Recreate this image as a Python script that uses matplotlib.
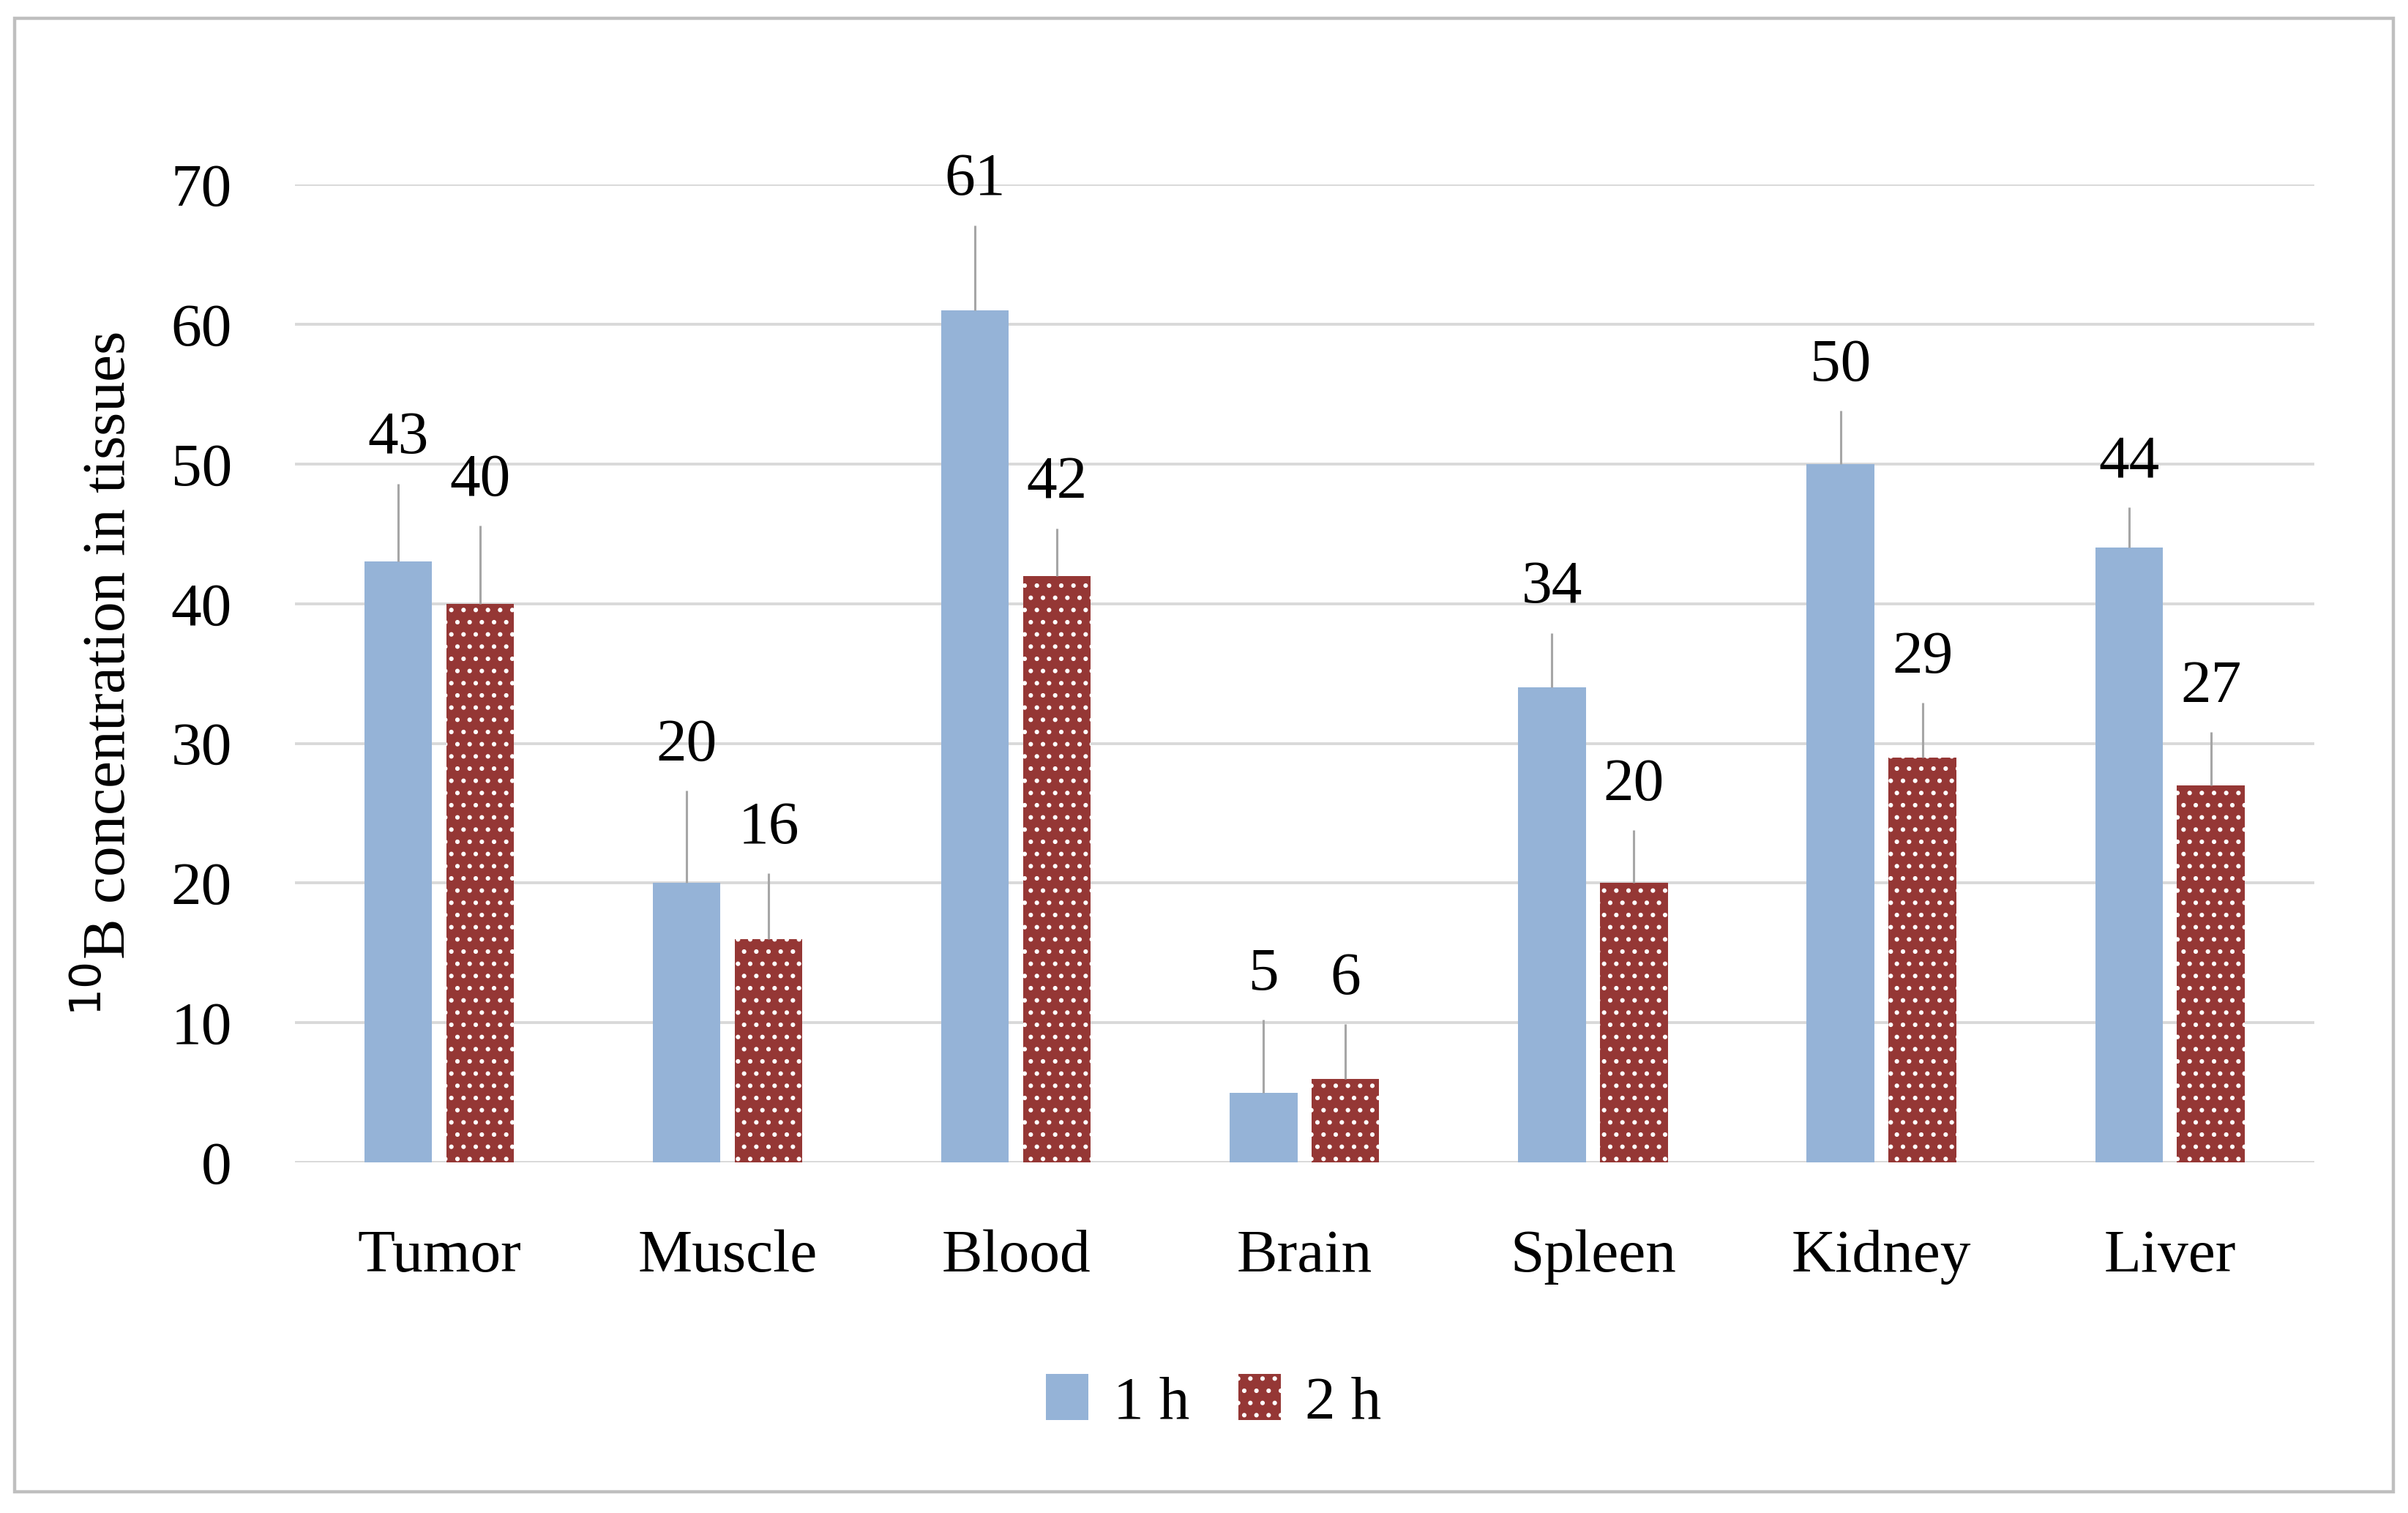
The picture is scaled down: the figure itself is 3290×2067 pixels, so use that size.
import numpy as np
import matplotlib.pyplot as plt
from matplotlib.patches import Rectangle, Patch

plt.rcParams['font.family'] = ['Liberation Serif', 'DejaVu Serif']
plt.rcParams['hatch.linewidth'] = 1.0

# data
tissues = ['Tumor', 'Muscle', 'Blood', 'Brain', 'Spleen', 'Kidney', 'Liver']
vals_1h = [43, 20, 61, 5, 34, 50, 44]
vals_2h = [40, 16, 42, 6, 20, 29, 27]
err_1h = [5.6, 6.6, 6.1, 5.2, 3.9, 3.8, 2.9]
err_2h = [5.6, 4.7, 3.4, 3.9, 3.8, 3.9, 3.8]
series_names = ['1 h', '2 h']

blue = '#95B3D7'
red = '#953735'
grid_grey = '#D9D9D9'
err_grey = '#A6A6A6'

fig = plt.figure(figsize=(16.45, 10.335), dpi=200)
ax = fig.add_axes([0.1225, 0.2317, 0.8385, 0.6463])

x = np.arange(len(tissues))
w = 0.234
off = 0.142

ax.bar(x - off, vals_1h, w, color=blue, linewidth=0, zorder=2)
ax.bar(x + off, vals_2h, w, color=red, edgecolor='white', hatch='..', linewidth=0, zorder=2)

# upper error bars only, no caps
ax.errorbar(x - off, vals_1h, yerr=[np.zeros(len(x)), err_1h], fmt='none',
            ecolor=err_grey, elinewidth=1.1, capsize=0, zorder=3)
ax.errorbar(x + off, vals_2h, yerr=[np.zeros(len(x)), err_2h], fmt='none',
            ecolor=err_grey, elinewidth=1.1, capsize=0, zorder=3)

# value labels sit just above the error bars
for xi, v, e in zip(x - off, vals_1h, err_1h):
    ax.text(xi, v + e + 3.2, str(v), ha='center', va='center', fontsize=30, clip_on=False)
for xi, v, e in zip(x + off, vals_2h, err_2h):
    ax.text(xi, v + e + 3.2, str(v), ha='center', va='center', fontsize=30, clip_on=False)

ax.set_xlim(-0.5, len(tissues) - 0.5)
ax.set_ylim(0, 70)
ax.set_yticks(np.arange(0, 71, 10))
ax.set_xticks(x)
ax.set_xticklabels(tissues)
ax.tick_params(axis='both', length=0, labelsize=30)
ax.tick_params(axis='y', pad=31)
ax.tick_params(axis='x', pad=33)
ax.yaxis.grid(True, color=grid_grey, linewidth=1.4, zorder=0)
ax.set_axisbelow(True)
for s in ax.spines.values():
    s.set_visible(False)

ax.set_ylabel('$^{10}$B concentration in tissues', fontsize=30, labelpad=16)

handles = [Patch(facecolor=blue, linewidth=0),
           Patch(facecolor=red, edgecolor='white', hatch='..', linewidth=0)]
fig.legend(handles, series_names, loc='center', bbox_to_anchor=(0.504, 0.073),
           ncol=2, frameon=False, fontsize=30, handlelength=0.7, handleheight=0.8,
           handletextpad=0.4, columnspacing=0.8)

# outer frame around the whole chart
fig.patches.append(Rectangle((20 / 3290, 1 - 2038 / 2067), 3250 / 3290, 2013 / 2067,
                             transform=fig.transFigure, fill=False,
                             edgecolor='#BFBFBF', linewidth=1.6))

fig.savefig('out.png', dpi=200, facecolor='white')
